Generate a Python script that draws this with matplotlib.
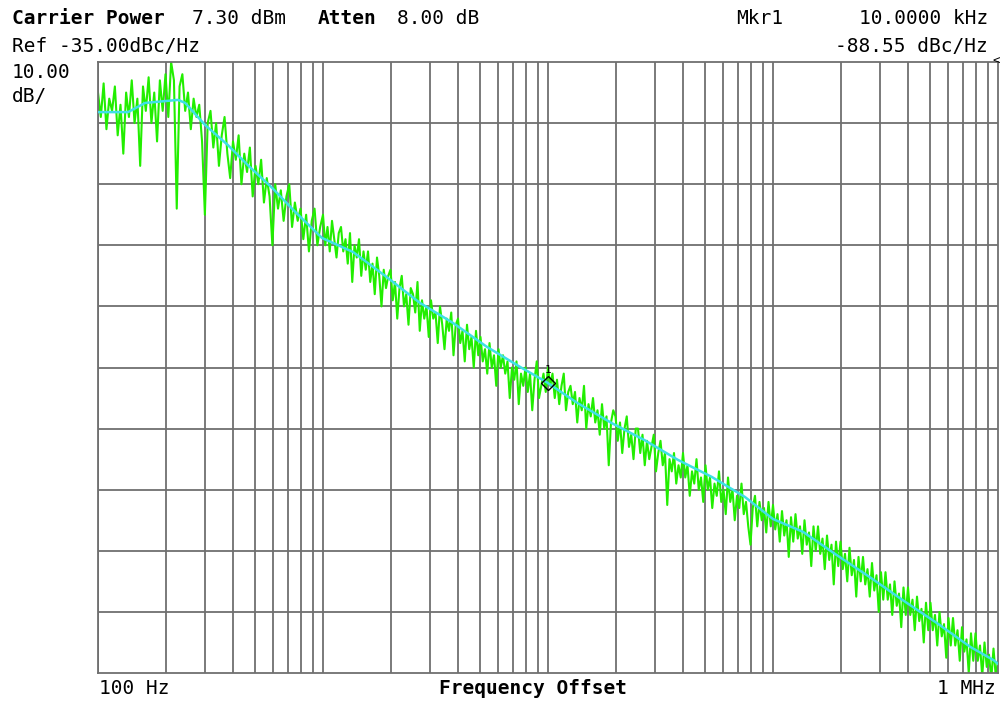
import numpy as np
import matplotlib
matplotlib.use("Agg")
import matplotlib.pyplot as plt

# analyzer settings
ref_level = -35.0
db_per_div = 10.0
n_div = 10
f_start = 100.0
f_stop = 1e6
mkr_freq = 10000.0
mkr_level = -87.6   # where the diamond sits on screen

# smoothed trace (cyan)
smooth_freq = [100, 136, 162, 227, 244, 299, 378, 464, 594, 751, 990,
               1360, 1920, 2690, 3780, 5340, 7510, 9860, 13500, 19200,
               26900, 37700, 53400, 75100, 100000, 136000, 192000, 269000,
               378000, 534000, 751000, 956000, 1000000]
smooth_db = [-43.2, -43.2, -41.7, -41.2, -41.7, -45.3, -48.6, -51.9, -55.6,
             -59.5, -63.8, -66.1, -70.2, -74.4, -77.7, -81.6, -84.9, -87.4,
             -90.8, -94.1, -96.9, -100.1, -102.9, -106.2, -109.8, -111.9,
             -115.7, -119.3, -123.1, -126.8, -130.7, -132.9, -133.5]

# raw trace (green), sweep points per decade
green_100_1k = [-40, -44, -38.5, -46, -41, -43, -39, -47, -42, -50,
                -40, -44, -38, -45, -41, -52, -39, -43, -37.5, -45,
                -40, -48, -38, -43, -37, -44, -35, -38, -59, -39,
                -37, -43, -40, -46, -41, -44, -42, -48, -60, -45,
                -43, -49, -45, -52, -47, -44, -50, -54, -48, -51,
                -47, -55, -50, -53, -49, -57, -52, -55, -51, -58,
                -54, -57, -65, -55, -59, -56, -61, -57, -55, -62,
                -58, -61, -59, -64, -60, -66, -61, -59, -65, -62]
green_1k_10k = [-60, -65, -62, -66, -61, -64, -67, -63, -62, -66,
                -64, -68, -63, -71, -65, -67, -64, -70, -66, -69,
                -66, -71, -68, -73, -67, -70, -75, -69, -72, -70,
                -69, -74, -71, -77, -72, -70, -75, -73, -78, -72,
                -73, -76, -71, -79, -74, -77, -75, -80, -74, -77,
                -76, -81, -75, -78, -82, -77, -79, -76, -83, -78,
                -77, -81, -79, -84, -78, -82, -80, -85, -79, -83,
                -80, -84, -82, -86, -81, -85, -83, -88, -82, -85,
                -83, -86, -84, -90, -85, -87, -84, -91, -86, -88,
                -85, -89, -86, -92, -87, -84, -90, -88, -86, -89]
green_10k_100k = [-85, -88, -86, -90, -87, -91, -88, -86, -92, -89,
                  -88, -91, -89, -94, -90, -92, -88, -95, -91, -93,
                  -90, -94, -92, -96, -91, -95, -93, -101, -94, -92,
                  -93, -97, -94, -99, -95, -93, -98, -96, -100, -95,
                  -95, -99, -96, -101, -97, -100, -98, -96, -102, -99,
                  -97, -101, -99, -107.5, -100, -102, -99, -104, -101, -103,
                  -99, -103, -101, -106, -102, -104, -100, -105, -103, -107,
                  -101, -105, -103, -108, -104, -106, -102, -107, -105, -109,
                  -103, -107, -105, -110, -106, -108, -104, -109, -107, -111,
                  -114, -108, -106, -111, -107, -110, -108, -112, -107, -111]
green_100k_1M = [-107.5, -111.5, -109, -113.5, -108.5, -112.5, -110, -116, -109.5, -113.5,
                 -109, -113, -111, -115.5, -110, -114, -112, -117.5, -111, -115,
                 -111, -115.5, -113, -118, -112.5, -116.5, -114, -120.5, -113.5, -117.5,
                 -113.5, -118, -115.5, -120, -114.5, -119, -116.5, -122.5, -116, -120,
                 -116, -120.5, -118, -122.5, -117, -121.5, -119, -125, -118.5, -123,
                 -118.5, -123, -120.5, -125.5, -120, -124, -122, -127.5, -121, -125.5,
                 -121, -125.5, -123, -128, -122.5, -126.5, -124.5, -130, -123.5, -128,
                 -123.5, -128, -125.5, -130.5, -125, -129, -127, -132.5, -126, -130.5,
                 -126, -130.5, -128, -133, -127.5, -131.5, -129.5, -135, -128.5, -133,
                 -128.5, -133, -130.5, -135.5, -130, -134, -132, -136, -131, -135.5]
green_end = -133

decades = [(2, green_100_1k), (3, green_1k_10k), (4, green_10k_100k),
           (5, green_100k_1M)]
green_freq = np.concatenate(
    [np.logspace(d, d + 1, len(v), endpoint=False) for d, v in decades]
    + [[f_stop]])
green_db = green_100_1k + green_1k_10k + green_10k_100k + green_100k_1M \
    + [green_end]

W, H = 1001, 703
fig = plt.figure(figsize=(W / 100, H / 100), dpi=100)
fig.patch.set_facecolor("white")
ax = fig.add_axes([98 / W, 30 / H, 900 / W, 611 / H])

grid_col = "#6f6f6f"
green = "#22ee00"
ax.set_xscale("log")
ax.set_xlim(f_start, f_stop)
bottom = ref_level - n_div * db_per_div
ax.set_ylim(bottom, ref_level)

# graticule: every 1..9 per decade, every division in dB
for dec in [100, 1000, 10000, 100000]:
    for k in range(1, 10):
        ax.axvline(dec * k, color=grid_col, lw=1.3, zorder=1)
for i in range(1, n_div):
    ax.axhline(ref_level - i * db_per_div, color=grid_col, lw=1.3, zorder=1)
for s in ax.spines.values():
    s.set_color(grid_col)
    s.set_linewidth(1.3)
ax.set_xticks([])
ax.set_yticks([])
ax.minorticks_off()

ax.plot(green_freq, green_db, color=green, lw=1.5, zorder=2)
ax.plot(smooth_freq, smooth_db, color="#3ee0e6", lw=1.8, zorder=3)

# marker 1
ax.plot([mkr_freq], [mkr_level], marker="D", ms=7, mfc="none", mec="black",
        mew=1.0, zorder=4)
ax.text(mkr_freq, mkr_level + 1.3, "1", ha="center", va="bottom",
        fontsize=8, family="DejaVu Sans Mono", zorder=4)

mono = "DejaVu Sans Mono"


def put(x, y, s, bold=False, ha="left", size=14):
    fig.text(x / W, 1 - y / H, s, ha=ha, va="center", fontsize=size,
             family=mono, weight="bold" if bold else "normal", color="black")


put(12, 19, "Carrier Power", bold=True)
put(192, 19, "7.30 dBm")
put(318, 19, "Atten", bold=True)
put(397, 19, "8.00 dB")
put(736, 19, "Mkr1")
put(988, 19, "10.0000 kHz", ha="right")
put(12, 46, "Ref -35.00dBc/Hz")
put(988, 46, "-88.55 dBc/Hz", ha="right")
put(12, 73, "10.00")
put(12, 97, "dB/")
put(99, 689, "100 Hz")
put(533, 689, "Frequency Offset", bold=True, ha="center")
put(996, 689, "1 MHz", ha="right")
put(1000, 61, "<", ha="right", size=9)

fig.savefig("out.png", dpi=100, facecolor="white")
